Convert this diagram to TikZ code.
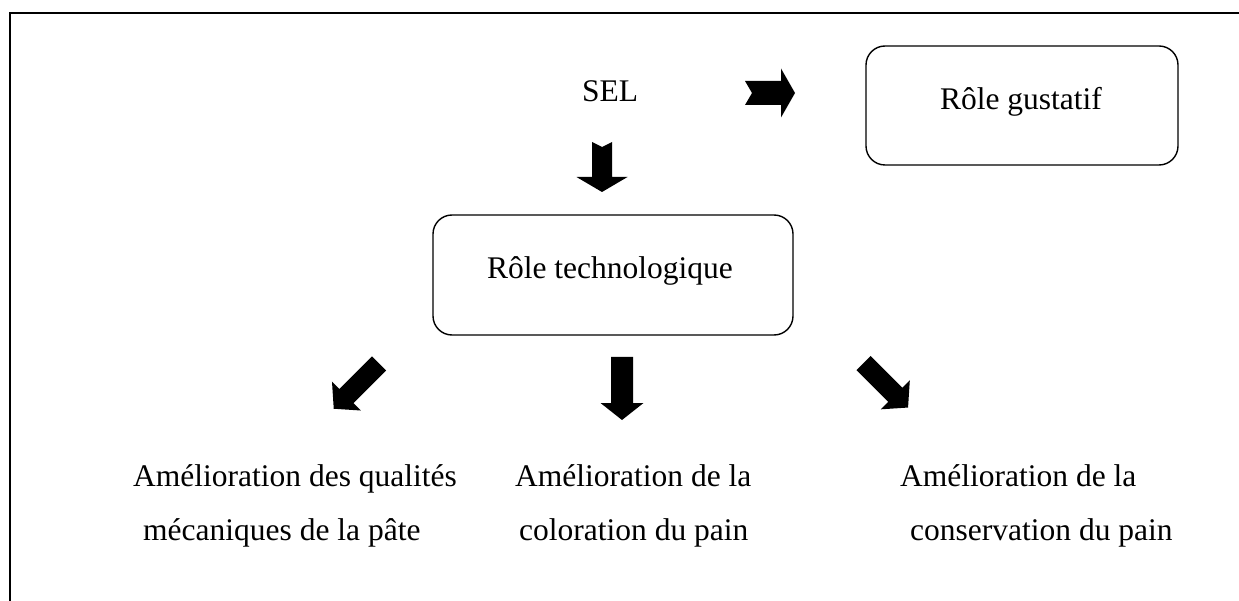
\documentclass[tikz,border=0pt]{standalone}
\usepackage{fontspec}
\setmainfont{Liberation Serif}
\begin{document}
\begin{tikzpicture}[x=1pt,y=-1pt,
  frameline/.style={line width=2pt},
  rolebox/.style={draw, line width=1.4pt, rounded corners=19pt},
  txt/.style={font=\fontsize{31.5}{38}\selectfont, inner sep=0pt},
  % block arrow along +x: length, body half-width, head half-width, head length, tail notch
  pics/blockarrow/.style n args={5}{code={
    \fill (0,-#2) -- (#1-#4,-#2) -- (#1-#4,-#3) -- (#1,0) -- (#1-#4,#3)
      -- (#1-#4,#2) -- (0,#2) -- (#5,0) -- cycle;}}]
\useasboundingbox (0,0) rectangle (1239,601);
\clip (0,0) rectangle (1239,601);

% outer frame
\draw[frameline] (10,650) -- (10,13) -- (1280,13);

% source and roles
\node[txt, anchor=base] (sel) at (610,102) {SEL};
\node[rolebox, minimum width=312pt, minimum height=119pt] (gust) at (1022,105.5) {};
\node[txt, anchor=base] (gust-t) at (1021,110) {Rôle gustatif};
\node[rolebox, minimum width=360pt, minimum height=120pt] (tech) at (613,275) {};
\node[txt, anchor=base] (tech-t) at (610,279) {Rôle technologique};

% block arrows
\pic (a-gust) at (745,93) {blockarrow={50}{12}{24.5}{14}{7}};
\pic[rotate=-90] (a-tech) at (602,142) {blockarrow={50}{10}{25.5}{15}{5}};
\pic[rotate=-135] (a-meca) at (379,363.5) {blockarrow={64}{10}{20.5}{18}{0}};
\pic[rotate=-90] (a-colo) at (622,357) {blockarrow={63}{11}{21.5}{17}{0}};
\pic[rotate=-45] (a-cons) at (863.5,363) {blockarrow={63}{10}{20.5}{18}{0}};

% effects
\node[txt, anchor=base west] (meca1) at (133,486) {Amélioration des qualités};
\node[txt, anchor=base west] (meca2) at (143,540) {mécaniques de la pâte};
\node[txt, anchor=base west] (colo1) at (515,486) {Amélioration de la};
\node[txt, anchor=base west] (colo2) at (519,540) {coloration du pain};
\node[txt, anchor=base west] (cons1) at (900,486) {Amélioration de la};
\node[txt, anchor=base west] (cons2) at (910,540) {conservation du pain};
\end{tikzpicture}
\end{document}
